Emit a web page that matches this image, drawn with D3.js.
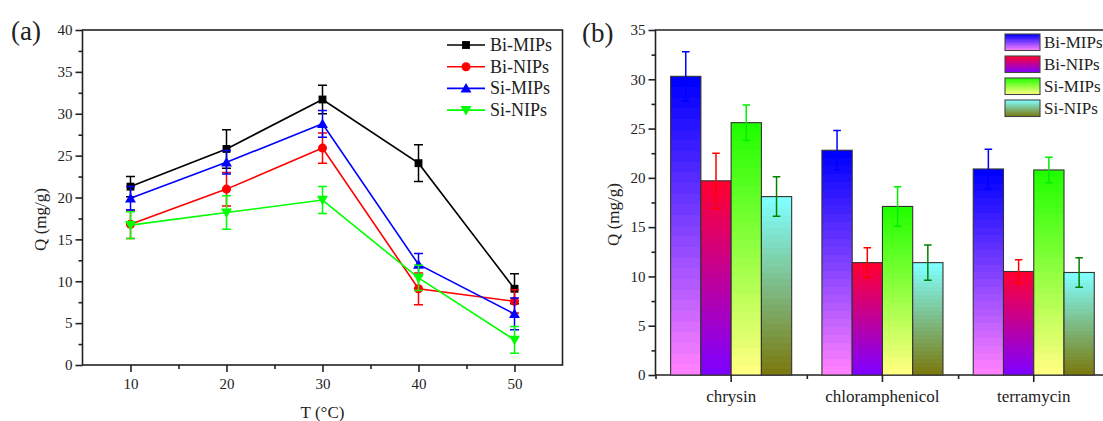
<!DOCTYPE html>
<html>
<head>
<meta charset="utf-8">
<script src="https://cdn.jsdelivr.net/npm/d3@7"></script>
<style>
  body { margin: 0; background: #fff; }
  svg text { font-family: "Liberation Serif", "Times New Roman", "DejaVu Serif", serif; fill: #222; }
  .axis path, .axis line { stroke: #222; stroke-width: 1.6; }
  .axis text { font-size: 15px; font-family: "Liberation Serif", "Times New Roman", "DejaVu Serif", serif; fill: #222; }
</style>
</head>
<body>
<div id="chart"></div>
<script>
// ---- data: panel (a) temperature effect ----
const temps = [10, 20, 30, 40, 50];
const seriesNames = ["Bi-MIPs", "Bi-NIPs", "Si-MIPs", "Si-NIPs"];
const biMIPsT = [21.3, 25.8, 31.7, 24.1, 9.1];
const biMIPsTErr = [1.2, 2.3, 1.7, 2.2, 1.8];
const biNIPsT = [16.8, 21.0, 25.9, 9.1, 7.6];
const biNIPsTErr = [1.7, 2.0, 1.8, 1.9, 1.4];
const siMIPsT = [19.9, 24.2, 28.8, 12.0, 6.1];
const siMIPsTErr = [1.4, 1.4, 1.6, 1.3, 1.9];
const siNIPsT = [16.7, 18.2, 19.7, 10.4, 3.0];
const siNIPsTErr = [1.6, 2.0, 1.6, 1.5, 1.6];
const tempTicks = [10, 20, 30, 40, 50];
const tempMinorTicks = [15, 25, 35, 45];
const qTicksA = [0, 5, 10, 15, 20, 25, 30, 35, 40];

// ---- data: panel (b) selectivity ----
const analytes = ["chrysin", "chloramphenicol", "terramycin"];
const biMIPsQ = [30.3, 22.8, 20.9];
const biMIPsQErr = [2.5, 2.0, 2.0];
const biNIPsQ = [19.7, 11.4, 10.5];
const biNIPsQErr = [2.8, 1.5, 1.2];
const siMIPsQ = [25.6, 17.1, 20.8];
const siMIPsQErr = [1.8, 2.0, 1.3];
const siNIPsQ = [18.1, 11.4, 10.4];
const siNIPsQErr = [2.0, 1.8, 1.5];
const qTicksB = [0, 5, 10, 15, 20, 25, 30, 35];

const lineColors = ["#000000", "#ff0000", "#0000ff", "#00ff00"];
const errColorsB = ["#0000ff", "#ff0000", "#00ee00", "#008000"];
const gradStops = [
    ["#0000ff", "#ff80ff"],
    ["#ff0033", "#8000ff"],
    ["#22ff00", "#ffff80"],
    ["#80ffff", "#7a7a10"]
];

const svg = d3.select("#chart").append("svg")
    .attr("width", 1103)
    .attr("height", 421);

// ================= panel (a) =================
const a = { left: 82.5, right: 562.5, top: 30, bottom: 365 };

const xA = d3.scaleLinear().domain([5, 55]).range([a.left, a.right]);
const yA = d3.scaleLinear().domain([0, 40]).range([a.bottom, a.top]);

// frame
svg.append("rect")
    .attr("x", a.left).attr("y", a.top)
    .attr("width", a.right - a.left).attr("height", a.bottom - a.top)
    .attr("fill", "none").attr("stroke", "#222").attr("stroke-width", 1.6);

svg.append("g").attr("class", "axis")
    .attr("transform", `translate(0,${a.bottom})`)
    .call(d3.axisBottom(xA).tickValues(tempTicks).tickSize(7).tickSizeOuter(0).tickPadding(6))
    .call(g => g.select(".domain").remove());
svg.append("g").attr("class", "axis")
    .attr("transform", `translate(0,${a.bottom})`)
    .call(d3.axisBottom(xA).tickValues(tempMinorTicks).tickSize(4).tickFormat(""))
    .call(g => g.select(".domain").remove());

svg.append("g").attr("class", "axis")
    .attr("transform", `translate(${a.left},0)`)
    .call(d3.axisLeft(yA).tickValues(qTicksA).tickSize(7).tickPadding(3))
    .call(g => g.select(".domain").remove());
svg.append("g").attr("class", "axis")
    .attr("transform", `translate(${a.left},0)`)
    .call(d3.axisLeft(yA).tickValues(qTicksA.slice(0, -1).map(d => d + 2.5)).tickSize(4).tickFormat(""))
    .call(g => g.select(".domain").remove());

const seriesA = [
    { name: seriesNames[0], values: biMIPsT, err: biMIPsTErr, symbol: d3.symbolSquare, size: 62, rot: 0 },
    { name: seriesNames[1], values: biNIPsT, err: biNIPsTErr, symbol: d3.symbolCircle, size: 64, rot: 0 },
    { name: seriesNames[2], values: siMIPsT, err: siMIPsTErr, symbol: d3.symbolTriangle, size: 52, rot: 0 },
    { name: seriesNames[3], values: siNIPsT, err: siNIPsTErr, symbol: d3.symbolTriangle, size: 52, rot: 180 }
];

const line = d3.line().x((d, i) => xA(temps[i])).y(d => yA(d));

// triangles are drawn off-centre by d3, nudge them back
const nudge = s => s.symbol === d3.symbolTriangle ? (s.rot ? -1 : 1) : 0;

seriesA.forEach((s, k) => {
    const c = lineColors[k];
    const g = svg.append("g");
    const pts = s.values.map((v, i) => ({ t: temps[i], v: v, e: s.err[i] }));
    // error bars
    g.selectAll(".eb").data(pts).enter().append("path")
        .attr("d", d => {
            const x = xA(d.t), y1 = yA(d.v + d.e), y2 = yA(d.v - d.e), w = 4.5;
            return `M${x},${y1}V${y2}M${x - w},${y1}H${x + w}M${x - w},${y2}H${x + w}`;
        })
        .attr("fill", "none").attr("stroke", c).attr("stroke-width", 1.5);
    g.append("path")
        .attr("d", line(s.values))
        .attr("fill", "none").attr("stroke", c).attr("stroke-width", 1.6);
    g.selectAll(".mk").data(pts).enter().append("path")
        .attr("d", d3.symbol().type(s.symbol).size(s.size))
        .attr("transform", d => `translate(${xA(d.t)},${yA(d.v) + nudge(s)}) rotate(${s.rot})`)
        .attr("fill", c);
});

// legend (a)
const legA = svg.append("g").attr("transform", "translate(447,45)");
seriesA.forEach((s, k) => {
    const row = legA.append("g").attr("transform", `translate(0,${k * 21.7})`);
    row.append("line").attr("x1", 0).attr("x2", 38)
        .attr("stroke", lineColors[k]).attr("stroke-width", 1.6);
    row.append("path")
        .attr("d", d3.symbol().type(s.symbol).size(s.size))
        .attr("transform", `translate(19,${nudge(s)}) rotate(${s.rot})`)
        .attr("fill", lineColors[k]);
    row.append("text").attr("x", 43).attr("y", 6)
        .style("font-size", "18px").text(s.name);
});

svg.append("text")
    .attr("transform", `translate(46,${(a.top + a.bottom) / 2 + 22}) rotate(-90)`)
    .attr("text-anchor", "middle")
    .style("font-size", "17px").text("Q (mg/g)");
svg.append("text")
    .attr("x", (a.left + a.right) / 2).attr("y", 418)
    .attr("text-anchor", "middle")
    .style("font-size", "17px").text("T (\u00B0C)");
svg.append("text")
    .attr("x", 11).attr("y", 40)
    .style("font-size", "27px").text("(a)");

// ================= panel (b) =================
const b = { left: 655.5, top: 30, bottom: 375, step: 151.3 };
const xLinB = d3.scaleLinear().domain([0.5, 3.5]).range([b.left, b.left + 3 * b.step]);
const x0 = d3.scaleBand().domain(analytes).range(xLinB.range()).paddingInner(0.2).paddingOuter(0.1);
const x1 = d3.scaleBand().domain(seriesNames).range([0, x0.bandwidth()]);
const yB = d3.scaleLinear().domain([0, 35]).range([b.bottom, b.top]);

// banded vertical gradients, like the original export
const bands = 28;
const defs = svg.append("defs");
gradStops.forEach((gs, k) => {
    const lg = defs.append("linearGradient")
        .attr("id", "grad" + k)
        .attr("x1", 0).attr("y1", 0).attr("x2", 0).attr("y2", 1);
    const interp = d3.interpolateRgb(gs[0], gs[1]);
    for (let i = 0; i < bands; i++) {
        const col = interp(i / (bands - 1));
        lg.append("stop").attr("offset", i / bands).attr("stop-color", col);
        lg.append("stop").attr("offset", (i + 1) / bands).attr("stop-color", col);
    }
});

// frame (right side falls outside the picture)
svg.append("path")
    .attr("d", `M${xLinB(3.5)},${b.top}H${b.left}V${b.bottom}H${xLinB(3.5)}`)
    .attr("fill", "none").attr("stroke", "#222").attr("stroke-width", 1.6);

const seriesB = [
    { name: seriesNames[0], values: biMIPsQ, err: biMIPsQErr },
    { name: seriesNames[1], values: biNIPsQ, err: biNIPsQErr },
    { name: seriesNames[2], values: siMIPsQ, err: siMIPsQErr },
    { name: seriesNames[3], values: siNIPsQ, err: siNIPsQErr }
];

const barData = [];
analytes.forEach((an, i) => {
    seriesB.forEach((s, k) => {
        barData.push({ analyte: an, series: s.name, k: k, v: s.values[i], e: s.err[i] });
    });
});

svg.append("g").selectAll("rect").data(barData).enter().append("rect")
    .attr("x", d => x0(d.analyte) + x1(d.series))
    .attr("width", x1.bandwidth())
    .attr("y", d => yB(d.v))
    .attr("height", d => yB(0) - yB(d.v))
    .attr("fill", d => `url(#grad${d.k})`)
    .attr("stroke", "#333").attr("stroke-width", 1.1);

svg.append("g").selectAll("path").data(barData).enter().append("path")
    .attr("d", d => {
        const x = x0(d.analyte) + x1(d.series) + x1.bandwidth() / 2;
        const y1 = yB(d.v + d.e), y2 = yB(d.v - d.e), w = 3.8;
        return `M${x},${y1}V${y2}M${x - w},${y1}H${x + w}M${x - w},${y2}H${x + w}`;
    })
    .attr("fill", "none")
    .attr("stroke", d => errColorsB[d.k])
    .attr("stroke-width", 1.5);

svg.append("g").attr("class", "axis")
    .attr("transform", `translate(0,${b.bottom})`)
    .call(d3.axisBottom(x0).tickSize(7).tickSizeOuter(0).tickPadding(8))
    .call(g => g.select(".domain").remove())
    .selectAll("text").style("font-size", "17px");
svg.append("g").attr("class", "axis")
    .attr("transform", `translate(0,${b.bottom})`)
    .call(d3.axisBottom(xLinB).tickValues([0.5, 1.5, 2.5, 3.5]).tickSize(4).tickFormat(""))
    .call(g => g.select(".domain").remove());

svg.append("g").attr("class", "axis")
    .attr("transform", `translate(${b.left},0)`)
    .call(d3.axisLeft(yB).tickValues(qTicksB).tickSize(7).tickPadding(3))
    .call(g => g.select(".domain").remove());
svg.append("g").attr("class", "axis")
    .attr("transform", `translate(${b.left},0)`)
    .call(d3.axisLeft(yB).tickValues(qTicksB.slice(0, -1).map(d => d + 2.5)).tickSize(4).tickFormat(""))
    .call(g => g.select(".domain").remove());

// legend (b)
const legB = svg.append("g").attr("transform", "translate(1005,34)");
seriesNames.forEach((name, k) => {
    const row = legB.append("g").attr("transform", `translate(0,${k * 22})`);
    row.append("rect").attr("width", 35).attr("height", 16.5)
        .attr("fill", `url(#grad${k})`)
        .attr("stroke", "#444").attr("stroke-width", 1.1);
    row.append("text").attr("x", 39).attr("y", 14)
        .style("font-size", "17px").text(name);
});

svg.append("text")
    .attr("transform", `translate(619,${(b.top + b.bottom) / 2 + 12}) rotate(-90)`)
    .attr("text-anchor", "middle")
    .style("font-size", "17px").text("Q (mg/g)");
svg.append("text")
    .attr("x", 582).attr("y", 42)
    .style("font-size", "27px").text("(b)");
</script>
</body>
</html>
